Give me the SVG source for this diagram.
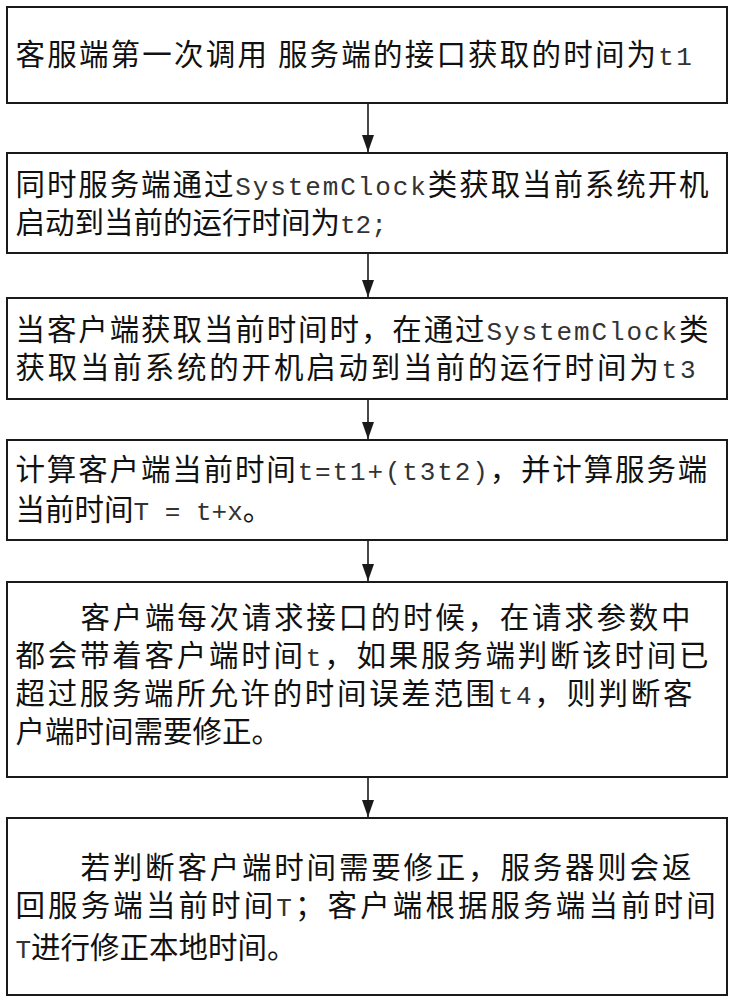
<svg xmlns="http://www.w3.org/2000/svg" width="733" height="1000" viewBox="0 0 733 1000">
<style>
  .box { fill: #ffffff; stroke: #1a1a1a; stroke-width: 2; }
  .t { font-family: "Liberation Mono", "Noto Sans CJK SC", monospace; font-size: 29.5px; fill: #111111; }
  .m { font-family: "Liberation Mono", "DejaVu Sans Mono", monospace; font-size: 26px; fill: #333333; }
  .sp { font-family: "Noto Sans CJK SC", sans-serif; }
  .conn { stroke: #1a1a1a; stroke-width: 1.6; fill: none; }
</style>
<defs>
  <marker id="arrow" markerUnits="userSpaceOnUse" markerWidth="17" markerHeight="12" refX="17" refY="6" orient="auto">
    <path d="M0,0 L17,6 L0,12 z" fill="#1a1a1a"/>
  </marker>
</defs>
<rect x="0" y="0" width="733" height="1000" fill="#ffffff"/>

<g id="connectors">
  <line class="conn" x1="368" y1="103" x2="368" y2="152" marker-end="url(#arrow)"/>
  <line class="conn" x1="368" y1="253" x2="368" y2="297" marker-end="url(#arrow)"/>
  <line class="conn" x1="368" y1="399" x2="368" y2="439" marker-end="url(#arrow)"/>
  <line class="conn" x1="368" y1="540" x2="368" y2="581" marker-end="url(#arrow)"/>
  <line class="conn" x1="368" y1="777" x2="368" y2="817" marker-end="url(#arrow)"/>
</g>

<g id="node1">
  <rect class="box" x="7" y="7" width="720" height="96"/>
  <text class="t" x="15.5" y="65" style="letter-spacing:2.2px">客服端第一次调用<tspan class="sp"> </tspan>服务端的接口获取的时间为<tspan class="m">t1</tspan></text>
</g>

<g id="node2">
  <rect class="box" x="7" y="153" width="720" height="100"/>
  <text class="t" x="15.5" y="195" style="letter-spacing:1.9px">同时服务端通过<tspan class="m">SystemClock</tspan>类获取当前系统开机</text>
  <text class="t" x="15.5" y="233">启动到当前的运行时间为<tspan class="m">t2;</tspan></text>
</g>

<g id="node3">
  <rect class="box" x="7" y="298" width="720" height="101"/>
  <text class="t" x="15.5" y="340" style="letter-spacing:1.9px">当客户端获取当前时间时，在通过<tspan class="m">SystemClock</tspan>类</text>
  <text class="t" x="15.5" y="378" style="letter-spacing:2.8px">获取当前系统的开机启动到当前的运行时间为<tspan class="m">t3</tspan></text>
</g>

<g id="node4">
  <rect class="box" x="7" y="440" width="720" height="100"/>
  <text class="t" x="15.5" y="480" style="letter-spacing:1.85px">计算客户端当前时间<tspan class="m">t=t1+(t3t2)</tspan>，并计算服务端</text>
  <text class="t" x="15.5" y="520">当前时间<tspan class="m" xml:space="preserve">T = t+x</tspan>。</text>
</g>

<g id="node5">
  <rect class="box" x="7" y="582" width="720" height="195"/>
  <text class="t" x="80.5" y="628" style="letter-spacing:2.75px">客户端每次请求接口的时候，在请求参数中</text>
  <text class="t" x="15.5" y="666" style="letter-spacing:2.75px">都会带着客户端时间<tspan class="m">t</tspan>，如果服务端判断该时间已</text>
  <text class="t" x="15.5" y="704" style="letter-spacing:2.65px">超过服务端所允许的时间误差范围<tspan class="m">t4</tspan>，则判断客</text>
  <text class="t" x="15.5" y="742">户端时间需要修正。</text>
</g>

<g id="node6">
  <rect class="box" x="7" y="818" width="720" height="177"/>
  <text class="t" x="80.5" y="878" style="letter-spacing:2.8px">若判断客户端时间需要修正，服务器则会返</text>
  <text class="t" x="15.5" y="916" style="letter-spacing:3.1px">回服务端当前时间<tspan class="m">T</tspan>；客户端根据服务端当前时间</text>
  <text class="t" x="15.5" y="958"><tspan class="m">T</tspan>进行修正本地时间。</text>
</g>
</svg>
